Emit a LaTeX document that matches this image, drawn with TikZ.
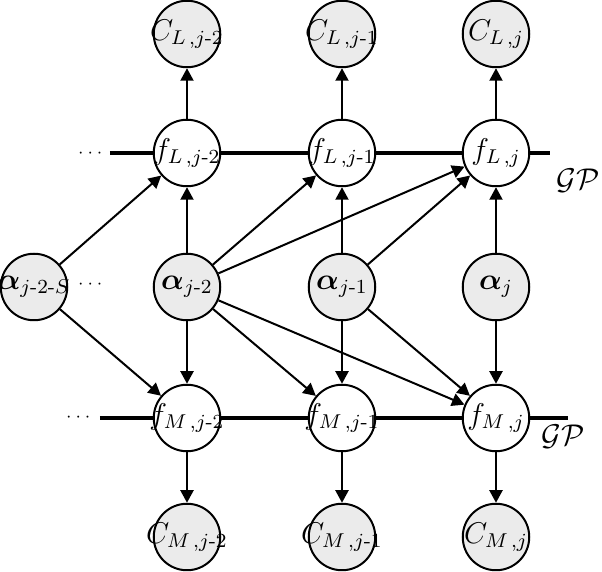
\documentclass[tikz,border=0pt]{standalone}
\usepackage{amsmath,amssymb,bm}
\usetikzlibrary{arrows.meta}
\newcommand{\hy}{\text{-}}
\begin{document}
\begin{tikzpicture}[x=0.4pt,y=-0.4pt,font=\fontsize{11.5}{13}\selectfont,
  gnode/.style={circle,draw,line width=0.8pt,fill=black!8,minimum size=26.6pt,inner sep=0pt},
  fnode/.style={circle,draw,line width=0.8pt,fill=white,minimum size=26.6pt,inner sep=0pt},
  arr/.style={-{Triangle[length=5pt,width=5.2pt]},line width=0.8pt},
  gpline/.style={line width=1.6pt},
  dots/.style={font=\scriptsize}]
\useasboundingbox (0,0) rectangle (602,572);
% GP lines
\coordinate (tl) at (110,153); \coordinate (tr) at (550,153);
\coordinate (bl) at (100,418); \coordinate (br) at (568,418);
\draw[gpline] (tl) -- (tr);
\draw[gpline] (bl) -- (br);
\node[dots] (tdots) at (92,153) {$\cdots$};
\node[dots] (bdots) at (80,417) {$\cdots$};
\node[dots] (adots) at (92,284) {$\cdots$};
\node (gpt) at (578,181) {$\mathcal{GP}$};
\node (gpb) at (563,437) {$\mathcal{GP}$};
% top C nodes
\node[gnode] (cl2) at (187,34) {\makebox[0pt]{$C_{L\,,j\hy 2}$}};
\node[gnode] (cl1) at (342,34) {\makebox[0pt]{$C_{L\,,j\hy 1}$}};
\node[gnode] (cl0) at (496,34) {\makebox[0pt]{$C_{L\,,j}$}};
% f_L
\node[fnode] (fl2) at (187,153) {\makebox[0pt]{$f_{L\,,j\hy 2}$}};
\node[fnode] (fl1) at (342,153) {\makebox[0pt]{$f_{L\,,j\hy 1}$}};
\node[fnode] (fl0) at (496,153) {\makebox[0pt]{$f_{L\,,j}$}};
% alphas
\node[gnode] (aS) at (34,287) {\makebox[0pt]{$\bm{\alpha}_{j\hy 2\hy S}$}};
\node[gnode] (a2) at (187,287) {\makebox[0pt]{$\bm{\alpha}_{j\hy 2}$}};
\node[gnode] (a1) at (342,287) {\makebox[0pt]{$\bm{\alpha}_{j\hy 1}$}};
\node[gnode] (a0) at (496,287) {\makebox[0pt]{$\bm{\alpha}_{j}$}};
% f_M
\node[fnode] (fm2) at (187,418) {\makebox[0pt]{$f_{M\,,j\hy 2}$}};
\node[fnode] (fm1) at (342,418) {\makebox[0pt]{$f_{M\,,j\hy 1}$}};
\node[fnode] (fm0) at (496,418) {\makebox[0pt]{$f_{M\,,j}$}};
% bottom C
\node[gnode] (cm2) at (187,537) {\makebox[0pt]{$C_{M\,,j\hy 2}$}};
\node[gnode] (cm1) at (342,537) {\makebox[0pt]{$C_{M\,,j\hy 1}$}};
\node[gnode] (cm0) at (496,537) {\makebox[0pt]{$C_{M\,,j}$}};
% arrows
\draw[arr] (fl2) -- (cl2);
\draw[arr] (fl1) -- (cl1);
\draw[arr] (fl0) -- (cl0);
\draw[arr] (fm2) -- (cm2);
\draw[arr] (fm1) -- (cm1);
\draw[arr] (fm0) -- (cm0);
\draw[arr] (a2) -- (fl2);
\draw[arr] (a1) -- (fl1);
\draw[arr] (a0) -- (fl0);
\draw[arr] (a2) -- (fm2);
\draw[arr] (a1) -- (fm1);
\draw[arr] (a0) -- (fm0);
\draw[arr] (aS) -- (fl2);
\draw[arr] (aS) -- (fm2);
\draw[arr] (a2) -- (fl1);
\draw[arr] (a2) -- (fl0);
\draw[arr] (a2) -- (fm1);
\draw[arr] (a2) -- (fm0);
\draw[arr] (a1) -- (fl0);
\draw[arr] (a1) -- (fm0);
\end{tikzpicture}
\end{document}
